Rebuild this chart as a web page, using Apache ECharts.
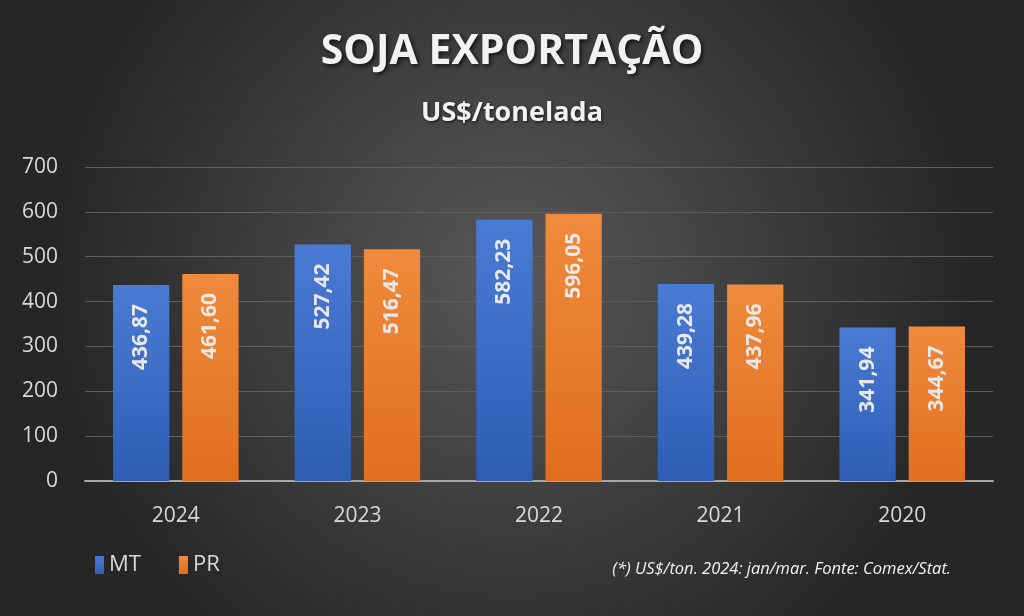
<!DOCTYPE html>
<html lang="pt">
<head>
    <meta charset="UTF-8" />
    <title>Soja Exportação</title>
    <script src="https://cdn.jsdelivr.net/npm/echarts@6.0.0/dist/echarts.min.js"></script>
    <style>
        html, body { margin: 0; padding: 0; background: #333; }
        #lienzo { width: 1024px; height: 616px; }
    </style>
</head>
<body>
    <div id="lienzo"></div>
    <script>
        // datos
        const anos = ['2024', '2023', '2022', '2021', '2020'];
        const valoresMT = [436.87, 527.42, 582.23, 439.28, 341.94];
        const valoresPR = [461.60, 516.47, 596.05, 437.96, 344.67];
        const ticksY = [0, 100, 200, 300, 400, 500, 600, 700];

        const fuente = '"Open Sans", "Liberation Sans", sans-serif';
        const textoClaro = '#d9d9d9';

        function degradado(arriba, abajo) {
            return {
                type: 'linear', x: 0, y: 0, x2: 0, y2: 1,
                colorStops: [{ offset: 0, color: arriba }, { offset: 1, color: abajo }]
            };
        }

        function etiqueta() {
            return {
                show: true,
                position: 'insideTop',
                rotate: 90,
                align: 'right',
                verticalAlign: 'middle',
                distance: 19,
                color: '#e8e8e8',
                fontFamily: fuente,
                fontWeight: 'bold',
                fontSize: 21,
                formatter: (p) => p.value.toFixed(2).replace('.', ',')
            };
        }

        let myChart = echarts.init(document.getElementById('lienzo'));

        myChart.setOption({
            backgroundColor: {
                type: 'radial', x: 0.5, y: 0.45, r: 0.75,
                colorStops: [
                    { offset: 0, color: '#585858' },
                    { offset: 1, color: '#262626' }
                ]
            },
            textStyle: { fontFamily: fuente },
            title: [
                {
                    text: 'SOJA EXPORTAÇÃO',
                    left: 'center',
                    top: 27,
                    textStyle: {
                        color: '#f2f2f2',
                        fontSize: 41,
                        fontWeight: 'bold',
                        fontFamily: fuente,
                        textShadowColor: 'rgba(0,0,0,0.7)',
                        textShadowBlur: 4,
                        textShadowOffsetX: 2,
                        textShadowOffsetY: 2
                    }
                },
                {
                    text: 'US$/tonelada',
                    left: 'center',
                    top: 95,
                    textStyle: {
                        color: '#f2f2f2',
                        fontSize: 27,
                        fontWeight: 'bold',
                        fontFamily: fuente,
                        textShadowColor: 'rgba(0,0,0,0.7)',
                        textShadowBlur: 3,
                        textShadowOffsetX: 1,
                        textShadowOffsetY: 1
                    }
                },
                {
                    text: '(*) US$/ton. 2024: jan/mar. Fonte: Comex/Stat.',
                    right: 68,
                    top: 556,
                    textStyle: {
                        color: '#f2f2f2',
                        fontSize: 16.5,
                        fontStyle: 'italic',
                        fontWeight: 'normal',
                        fontFamily: fuente
                    }
                }
            ],
            legend: {
                left: 90,
                top: 549,
                itemWidth: 9,
                itemHeight: 18,
                itemGap: 38,
                icon: 'rect',
                textStyle: { color: textoClaro, fontSize: 22, fontFamily: fuente },
                data: ['MT', 'PR']
            },
            grid: { left: 85, right: 31, top: 167, bottom: 135 },
            xAxis: {
                type: 'category',
                data: anos,
                axisLine: { lineStyle: { color: '#a6a6a6', width: 2 } },
                axisTick: { show: false },
                axisLabel: { color: textoClaro, fontSize: 21, margin: 25, fontFamily: fuente }
            },
            yAxis: {
                type: 'value',
                min: ticksY[0],
                max: ticksY[ticksY.length - 1],
                interval: 100,
                axisLine: { show: false },
                axisTick: { show: false },
                axisLabel: { color: textoClaro, fontSize: 21, margin: 27, fontFamily: fuente },
                splitLine: { lineStyle: { color: '#5e5e5e', width: 1 } }
            },
            series: [
                {
                    name: 'MT',
                    type: 'bar',
                    data: valoresMT,
                    barWidth: '31%',
                    barGap: '23%',
                    itemStyle: { color: degradado('#4a7bd4', '#2e5db3') },
                    label: etiqueta()
                },
                {
                    name: 'PR',
                    type: 'bar',
                    data: valoresPR,
                    barWidth: '31%',
                    itemStyle: { color: degradado('#f08a3c', '#e0701f') },
                    label: etiqueta()
                }
            ]
        });
    </script>
</body>
</html>
